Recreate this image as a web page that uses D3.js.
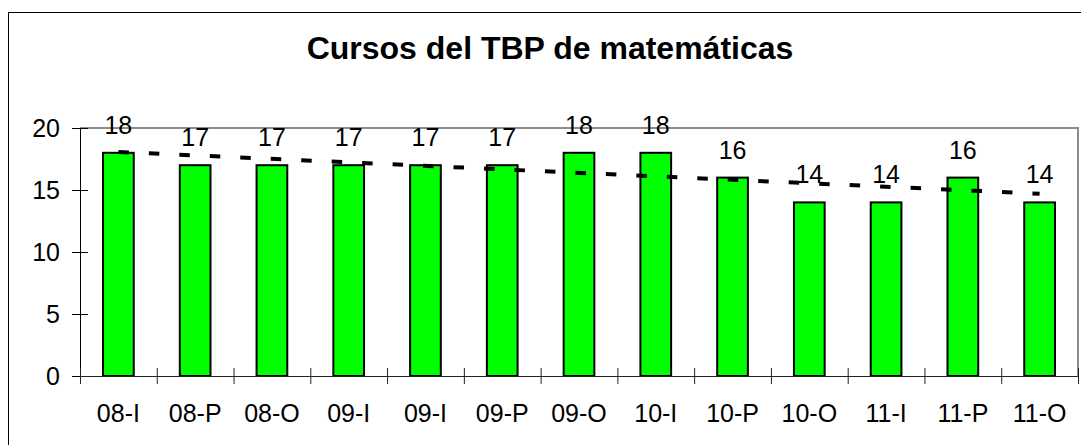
<!DOCTYPE html>
<html>
<head>
<meta charset="utf-8">
<script src="https://cdn.jsdelivr.net/npm/d3@7/dist/d3.min.js"></script>
<style>
  body { margin: 0; background: #fff; }
  svg { display: block; font-family: Arial, "Liberation Sans", sans-serif; }
</style>
</head>
<body>
<svg id="chart" width="1081" height="445"></svg>
<script>
// data
var categories = ["08-I", "08-P", "08-O", "09-I", "09-I", "09-P", "09-O", "10-I", "10-P", "10-O", "11-I", "11-P", "11-O"];
var cursos = [18, 17, 17, 17, 17, 17, 18, 18, 16, 14, 14, 16, 14];
var yTicks = [0, 5, 10, 15, 20];
var trendEnds = [18.07, 14.70];   // linear trendline, first and last category
var title = "Cursos del TBP de matemáticas";

var svg = d3.select("#chart");
var plot = {left: 80, right: 1078, top: 128, bottom: 376};

// outer frame (runs off the right and bottom edge)
svg.append("rect")
    .attr("x", 8.5).attr("y", 12.5)
    .attr("width", 1200).attr("height", 600)
    .attr("fill", "none")
    .attr("stroke", "#000")
    .attr("stroke-width", 1);

svg.append("text")
    .attr("x", 550).attr("y", 59)
    .attr("text-anchor", "middle")
    .attr("font-size", "32px")
    .attr("font-weight", "bold")
    .text(title);

var x = d3.scaleBand()
    .domain(d3.range(categories.length))
    .range([plot.left, plot.right])
    .paddingInner(0.6)
    .paddingOuter(0.3);

var xEdge = d3.scaleLinear()
    .domain([0, categories.length])
    .range([plot.left, plot.right]);

var y = d3.scaleLinear()
    .domain([0, 20])
    .range([plot.bottom, plot.top]);

// gray plot area border (top and right)
svg.append("path")
    .attr("d", "M" + plot.left + "," + plot.top + "H" + plot.right + "V" + plot.bottom)
    .attr("fill", "none")
    .attr("stroke", "#8c8c8c")
    .attr("stroke-width", 2);

// bars
svg.selectAll("rect.bar")
    .data(cursos)
    .enter()
    .append("rect")
    .attr("class", "bar")
    .attr("x", function(d, i) { return x(i); })
    .attr("y", function(d) { return y(d); })
    .attr("width", x.bandwidth())
    .attr("height", function(d) { return y(0) - y(d); })
    .attr("fill", "#00ff00")
    .attr("stroke", "#000")
    .attr("stroke-width", 2);

// Y axis
var yAxis = svg.append("g")
    .attr("transform", "translate(" + plot.left + ",0)")
    .call(d3.axisLeft(y).tickValues(yTicks).tickSize(16).tickSizeOuter(0).tickPadding(4));
yAxis.selectAll(".tick line").attr("x1", 8).attr("x2", -8);
yAxis.selectAll("text").attr("font-size", "25px").attr("fill", "#000");
yAxis.select(".domain").attr("stroke", "#000");

// X axis: boundary ticks
var xEdgeAxis = svg.append("g")
    .attr("transform", "translate(0," + plot.bottom + ")")
    .call(d3.axisBottom(xEdge).ticks(categories.length).tickFormat("").tickSize(16).tickSizeOuter(0));
xEdgeAxis.selectAll(".tick line").attr("y1", -8).attr("y2", 8).attr("stroke", "#222");
xEdgeAxis.select(".domain").attr("stroke", "#222");

// X axis: category labels
var xAxis = svg.append("g")
    .attr("transform", "translate(0," + plot.bottom + ")")
    .call(d3.axisBottom(x).tickFormat(function(i) { return categories[i]; }).tickSize(0).tickPadding(28));
xAxis.select(".domain").remove();
xAxis.selectAll("text").attr("font-size", "25px").attr("fill", "#000");

// trendline
var first = 0, last = categories.length - 1;
svg.append("line")
    .attr("x1", x(first) + x.bandwidth() / 2)
    .attr("y1", y(trendEnds[0]))
    .attr("x2", x(last) + x.bandwidth() / 2)
    .attr("y2", y(trendEnds[1]))
    .attr("stroke", "#000")
    .attr("stroke-width", 4)
    .attr("stroke-dasharray", "10.5,20");

// value labels
svg.selectAll("text.value")
    .data(cursos)
    .enter()
    .append("text")
    .attr("class", "value")
    .attr("x", function(d, i) { return x(i) + x.bandwidth() / 2; })
    .attr("y", function(d) { return y(d) - 19; })
    .attr("text-anchor", "middle")
    .attr("font-size", "25px")
    .text(function(d) { return d; });
</script>
</body>
</html>
